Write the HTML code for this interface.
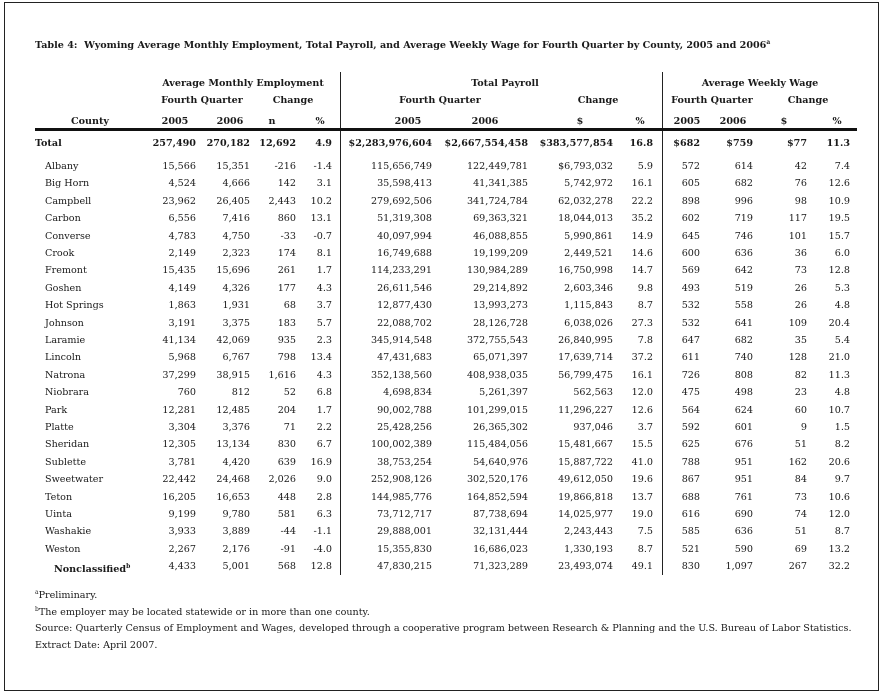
<!DOCTYPE html>
<html><head><meta charset="utf-8"><style>
*{margin:0;padding:0}
body{width:882px;height:692px;background:#fff;position:relative;overflow:hidden;font-family:"DejaVu Serif","Liberation Serif",serif;font-size:9.6px;color:#1a1a1a}
.b{position:absolute;left:4px;top:2px;width:873px;height:687px;border:1px solid #222}
.t{position:absolute;white-space:nowrap;line-height:12px}
.r{position:absolute;left:0;width:882px;height:12px}
.r span{position:absolute;line-height:12px;white-space:nowrap}
.bo{font-weight:bold}
.c{transform:translateX(-50%)}
.n{left:45px}
.a{right:686px}.b2{right:632px}.c3{right:586px}.d{right:550px}
.e{right:450px}.f{right:354px}.g{right:269px}.h{right:229px}
.i{right:182px}.j{right:129px}.k{right:75px}.l{right:32px}
.v{position:absolute;width:1px;background:#222;top:72px;height:503px}
</style></head><body>
<div class="b"></div>
<div class="t bo" style="left:35px;top:37px">Table 4:&nbsp; Wyoming Average Monthly Employment, Total Payroll, and Average Weekly Wage for Fourth Quarter by County, 2005 and 2006<sup style="font-size:6px">a</sup></div>
<div class="v" style="left:340px"></div>
<div class="v" style="left:662px"></div>
<div style="position:absolute;left:35px;top:128px;width:822px;height:3px;background:#111"></div>

<div class="t bo c" style="left:243px;top:78px">Average Monthly Employment</div>
<div class="t bo c" style="left:505px;top:78px">Total Payroll</div>
<div class="t bo c" style="left:760px;top:78px">Average Weekly Wage</div>
<div class="t bo c" style="left:202px;top:95px">Fourth Quarter</div>
<div class="t bo c" style="left:293px;top:95px">Change</div>
<div class="t bo c" style="left:440px;top:95px">Fourth Quarter</div>
<div class="t bo c" style="left:598px;top:95px">Change</div>
<div class="t bo c" style="left:712px;top:95px">Fourth Quarter</div>
<div class="t bo c" style="left:808px;top:95px">Change</div>
<div class="t bo c" style="left:90px;top:116px">County</div>
<div class="t bo c" style="left:175px;top:116px">2005</div>
<div class="t bo c" style="left:230px;top:116px">2006</div>
<div class="t bo c" style="left:272px;top:116px">n</div>
<div class="t bo c" style="left:320px;top:116px">%</div>
<div class="t bo c" style="left:408px;top:116px">2005</div>
<div class="t bo c" style="left:485px;top:116px">2006</div>
<div class="t bo c" style="left:580px;top:116px">$</div>
<div class="t bo c" style="left:640px;top:116px">%</div>
<div class="t bo c" style="left:687px;top:116px">2005</div>
<div class="t bo c" style="left:733px;top:116px">2006</div>
<div class="t bo c" style="left:784px;top:116px">$</div>
<div class="t bo c" style="left:837px;top:116px">%</div>

<div class="r bo" style="top:138px"><span style="left:35px">Total</span><span class="a">257,490</span><span class="b2">270,182</span><span class="c3">12,692</span><span class="d">4.9</span><span class="e">$2,283,976,604</span><span class="f">$2,667,554,458</span><span class="g">$383,577,854</span><span class="h">16.8</span><span class="i">$682</span><span class="j">$759</span><span class="k">$77</span><span class="l">11.3</span></div>
<div class="r" style="top:161px"><span class="n">Albany</span><span class="a">15,566</span><span class="b2">15,351</span><span class="c3">-216</span><span class="d">-1.4</span><span class="e">115,656,749</span><span class="f">122,449,781</span><span class="g">$6,793,032</span><span class="h">5.9</span><span class="i">572</span><span class="j">614</span><span class="k">42</span><span class="l">7.4</span></div>
<div class="r" style="top:178.4px"><span class="n">Big Horn</span><span class="a">4,524</span><span class="b2">4,666</span><span class="c3">142</span><span class="d">3.1</span><span class="e">35,598,413</span><span class="f">41,341,385</span><span class="g">5,742,972</span><span class="h">16.1</span><span class="i">605</span><span class="j">682</span><span class="k">76</span><span class="l">12.6</span></div>
<div class="r" style="top:195.8px"><span class="n">Campbell</span><span class="a">23,962</span><span class="b2">26,405</span><span class="c3">2,443</span><span class="d">10.2</span><span class="e">279,692,506</span><span class="f">341,724,784</span><span class="g">62,032,278</span><span class="h">22.2</span><span class="i">898</span><span class="j">996</span><span class="k">98</span><span class="l">10.9</span></div>
<div class="r" style="top:213.2px"><span class="n">Carbon</span><span class="a">6,556</span><span class="b2">7,416</span><span class="c3">860</span><span class="d">13.1</span><span class="e">51,319,308</span><span class="f">69,363,321</span><span class="g">18,044,013</span><span class="h">35.2</span><span class="i">602</span><span class="j">719</span><span class="k">117</span><span class="l">19.5</span></div>
<div class="r" style="top:230.6px"><span class="n">Converse</span><span class="a">4,783</span><span class="b2">4,750</span><span class="c3">-33</span><span class="d">-0.7</span><span class="e">40,097,994</span><span class="f">46,088,855</span><span class="g">5,990,861</span><span class="h">14.9</span><span class="i">645</span><span class="j">746</span><span class="k">101</span><span class="l">15.7</span></div>
<div class="r" style="top:248px"><span class="n">Crook</span><span class="a">2,149</span><span class="b2">2,323</span><span class="c3">174</span><span class="d">8.1</span><span class="e">16,749,688</span><span class="f">19,199,209</span><span class="g">2,449,521</span><span class="h">14.6</span><span class="i">600</span><span class="j">636</span><span class="k">36</span><span class="l">6.0</span></div>
<div class="r" style="top:265.4px"><span class="n">Fremont</span><span class="a">15,435</span><span class="b2">15,696</span><span class="c3">261</span><span class="d">1.7</span><span class="e">114,233,291</span><span class="f">130,984,289</span><span class="g">16,750,998</span><span class="h">14.7</span><span class="i">569</span><span class="j">642</span><span class="k">73</span><span class="l">12.8</span></div>
<div class="r" style="top:282.8px"><span class="n">Goshen</span><span class="a">4,149</span><span class="b2">4,326</span><span class="c3">177</span><span class="d">4.3</span><span class="e">26,611,546</span><span class="f">29,214,892</span><span class="g">2,603,346</span><span class="h">9.8</span><span class="i">493</span><span class="j">519</span><span class="k">26</span><span class="l">5.3</span></div>
<div class="r" style="top:300.2px"><span class="n">Hot Springs</span><span class="a">1,863</span><span class="b2">1,931</span><span class="c3">68</span><span class="d">3.7</span><span class="e">12,877,430</span><span class="f">13,993,273</span><span class="g">1,115,843</span><span class="h">8.7</span><span class="i">532</span><span class="j">558</span><span class="k">26</span><span class="l">4.8</span></div>
<div class="r" style="top:317.6px"><span class="n">Johnson</span><span class="a">3,191</span><span class="b2">3,375</span><span class="c3">183</span><span class="d">5.7</span><span class="e">22,088,702</span><span class="f">28,126,728</span><span class="g">6,038,026</span><span class="h">27.3</span><span class="i">532</span><span class="j">641</span><span class="k">109</span><span class="l">20.4</span></div>
<div class="r" style="top:335px"><span class="n">Laramie</span><span class="a">41,134</span><span class="b2">42,069</span><span class="c3">935</span><span class="d">2.3</span><span class="e">345,914,548</span><span class="f">372,755,543</span><span class="g">26,840,995</span><span class="h">7.8</span><span class="i">647</span><span class="j">682</span><span class="k">35</span><span class="l">5.4</span></div>
<div class="r" style="top:352.4px"><span class="n">Lincoln</span><span class="a">5,968</span><span class="b2">6,767</span><span class="c3">798</span><span class="d">13.4</span><span class="e">47,431,683</span><span class="f">65,071,397</span><span class="g">17,639,714</span><span class="h">37.2</span><span class="i">611</span><span class="j">740</span><span class="k">128</span><span class="l">21.0</span></div>
<div class="r" style="top:369.8px"><span class="n">Natrona</span><span class="a">37,299</span><span class="b2">38,915</span><span class="c3">1,616</span><span class="d">4.3</span><span class="e">352,138,560</span><span class="f">408,938,035</span><span class="g">56,799,475</span><span class="h">16.1</span><span class="i">726</span><span class="j">808</span><span class="k">82</span><span class="l">11.3</span></div>
<div class="r" style="top:387.2px"><span class="n">Niobrara</span><span class="a">760</span><span class="b2">812</span><span class="c3">52</span><span class="d">6.8</span><span class="e">4,698,834</span><span class="f">5,261,397</span><span class="g">562,563</span><span class="h">12.0</span><span class="i">475</span><span class="j">498</span><span class="k">23</span><span class="l">4.8</span></div>
<div class="r" style="top:404.6px"><span class="n">Park</span><span class="a">12,281</span><span class="b2">12,485</span><span class="c3">204</span><span class="d">1.7</span><span class="e">90,002,788</span><span class="f">101,299,015</span><span class="g">11,296,227</span><span class="h">12.6</span><span class="i">564</span><span class="j">624</span><span class="k">60</span><span class="l">10.7</span></div>
<div class="r" style="top:422px"><span class="n">Platte</span><span class="a">3,304</span><span class="b2">3,376</span><span class="c3">71</span><span class="d">2.2</span><span class="e">25,428,256</span><span class="f">26,365,302</span><span class="g">937,046</span><span class="h">3.7</span><span class="i">592</span><span class="j">601</span><span class="k">9</span><span class="l">1.5</span></div>
<div class="r" style="top:439.4px"><span class="n">Sheridan</span><span class="a">12,305</span><span class="b2">13,134</span><span class="c3">830</span><span class="d">6.7</span><span class="e">100,002,389</span><span class="f">115,484,056</span><span class="g">15,481,667</span><span class="h">15.5</span><span class="i">625</span><span class="j">676</span><span class="k">51</span><span class="l">8.2</span></div>
<div class="r" style="top:456.8px"><span class="n">Sublette</span><span class="a">3,781</span><span class="b2">4,420</span><span class="c3">639</span><span class="d">16.9</span><span class="e">38,753,254</span><span class="f">54,640,976</span><span class="g">15,887,722</span><span class="h">41.0</span><span class="i">788</span><span class="j">951</span><span class="k">162</span><span class="l">20.6</span></div>
<div class="r" style="top:474.2px"><span class="n">Sweetwater</span><span class="a">22,442</span><span class="b2">24,468</span><span class="c3">2,026</span><span class="d">9.0</span><span class="e">252,908,126</span><span class="f">302,520,176</span><span class="g">49,612,050</span><span class="h">19.6</span><span class="i">867</span><span class="j">951</span><span class="k">84</span><span class="l">9.7</span></div>
<div class="r" style="top:491.6px"><span class="n">Teton</span><span class="a">16,205</span><span class="b2">16,653</span><span class="c3">448</span><span class="d">2.8</span><span class="e">144,985,776</span><span class="f">164,852,594</span><span class="g">19,866,818</span><span class="h">13.7</span><span class="i">688</span><span class="j">761</span><span class="k">73</span><span class="l">10.6</span></div>
<div class="r" style="top:509px"><span class="n">Uinta</span><span class="a">9,199</span><span class="b2">9,780</span><span class="c3">581</span><span class="d">6.3</span><span class="e">73,712,717</span><span class="f">87,738,694</span><span class="g">14,025,977</span><span class="h">19.0</span><span class="i">616</span><span class="j">690</span><span class="k">74</span><span class="l">12.0</span></div>
<div class="r" style="top:526.4px"><span class="n">Washakie</span><span class="a">3,933</span><span class="b2">3,889</span><span class="c3">-44</span><span class="d">-1.1</span><span class="e">29,888,001</span><span class="f">32,131,444</span><span class="g">2,243,443</span><span class="h">7.5</span><span class="i">585</span><span class="j">636</span><span class="k">51</span><span class="l">8.7</span></div>
<div class="r" style="top:543.8px"><span class="n">Weston</span><span class="a">2,267</span><span class="b2">2,176</span><span class="c3">-91</span><span class="d">-4.0</span><span class="e">15,355,830</span><span class="f">16,686,023</span><span class="g">1,330,193</span><span class="h">8.7</span><span class="i">521</span><span class="j">590</span><span class="k">69</span><span class="l">13.2</span></div>
<div class="r" style="top:561.2px"><span class="bo" style="left:54px">Nonclassified<sup style="font-size:6px">b</sup></span><span class="a">4,433</span><span class="b2">5,001</span><span class="c3">568</span><span class="d">12.8</span><span class="e">47,830,215</span><span class="f">71,323,289</span><span class="g">23,493,074</span><span class="h">49.1</span><span class="i">830</span><span class="j">1,097</span><span class="k">267</span><span class="l">32.2</span></div>

<div class="t" style="left:35px;top:587px"><sup style="font-size:6px">a</sup>Preliminary.</div>
<div class="t" style="left:35px;top:604px"><sup style="font-size:6px">b</sup>The employer may be located statewide or in more than one county.</div>
<div class="t" style="left:35px;top:623px">Source: Quarterly Census of Employment and Wages, developed through a cooperative program between Research &amp; Planning and the U.S. Bureau of Labor Statistics.</div>
<div class="t" style="left:35px;top:640px">Extract Date: April 2007.</div>
</body></html>
